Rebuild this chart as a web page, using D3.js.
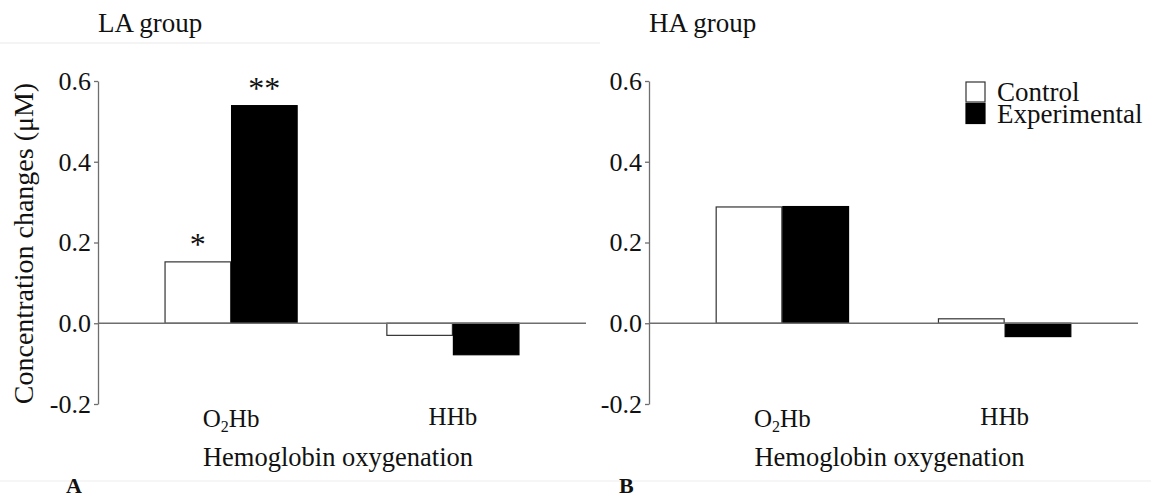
<!DOCTYPE html>
<html>
<head>
<meta charset="utf-8">
<script src="https://cdn.jsdelivr.net/npm/d3@7"></script>
<style>
  html, body { margin: 0; padding: 0; background: #ffffff; }
  svg { display: block; }
  text { font-family: "Liberation Serif", "Times New Roman", "DejaVu Serif", serif; fill: #111; }
</style>
</head>
<body>
<svg id="chart" width="1151" height="499"></svg>
<script>
// ---------------- data ----------------
const categories = ["O2Hb", "HHb"];
const seriesNames = ["Control", "Experimental"];
const laControl = [0.152, -0.030];
const laExperimental = [0.539, -0.078];
const haControl = [0.288, 0.011];
const haExperimental = [0.289, -0.033];
const yTicks = [-0.2, 0.0, 0.2, 0.4, 0.6];
const yTickLabels = ["-0.2", "0.0", "0.2", "0.4", "0.6"];
const laMarks = [{ category: "O2Hb", series: "Control", text: "*" },
                 { category: "O2Hb", series: "Experimental", text: "**" }];
const haMarks = [];

// ---------------- layout ----------------
const svg = d3.select("#chart");
const fillOf = { Control: "#ffffff", Experimental: "#000000" };
const strokeOf = { Control: "#333333", Experimental: "#000000" };
const axisColor = "#6e6e6e";

// faint scan borders from the source figure
svg.append("line").attr("x1", 0).attr("x2", 600).attr("y1", 43).attr("y2", 43)
  .attr("stroke", "#f1f1f1").attr("stroke-width", 1.5);
svg.append("line").attr("x1", 0).attr("x2", 1151).attr("y1", 481).attr("y2", 481)
  .attr("stroke", "#f3f3f3").attr("stroke-width", 1.5);

const y = d3.scaleLinear().domain([-0.2, 0.6]).range([404, 81]);

function panel(opts) {
  const g = svg.append("g");
  const x0 = opts.x0, x1 = opts.x1;
  const x = d3.scaleBand().domain(categories).range([x0, x1])
    .paddingInner(0.4).paddingOuter(0.3);
  const xs = d3.scaleBand().domain(seriesNames).range([0, x.bandwidth()]);

  // title
  g.append("text").attr("x", x0).attr("y", 32)
    .attr("font-size", 27).text(opts.title);

  // y axis
  const yAxis = d3.axisLeft(y).tickValues(yTicks)
    .tickFormat((d, i) => yTickLabels[i]).tickSize(4).tickSizeOuter(0).tickPadding(3);
  const ga = g.append("g").attr("transform", `translate(${x0},0)`).call(yAxis);
  ga.select(".domain").attr("stroke", axisColor).attr("stroke-width", 1.3);
  ga.selectAll(".tick line").attr("stroke", axisColor).attr("stroke-width", 1.3);
  ga.selectAll(".tick text")
    .attr("font-family", '"Liberation Serif", "Times New Roman", serif')
    .attr("font-size", 26).attr("fill", "#111");

  // bars
  const rows = [];
  categories.forEach((c, i) => {
    rows.push({ category: c, series: "Control", value: opts.control[i] });
    rows.push({ category: c, series: "Experimental", value: opts.experimental[i] });
  });
  g.selectAll("rect.bar").data(rows).enter().append("rect")
    .attr("class", "bar")
    .attr("x", d => x(d.category) + xs(d.series) + 0.5)
    .attr("width", xs.bandwidth() - 1)
    .attr("y", d => Math.min(y(d.value), y(0)))
    .attr("height", d => Math.abs(y(d.value) - y(0)))
    .attr("fill", d => fillOf[d.series])
    .attr("stroke", d => strokeOf[d.series])
    .attr("stroke-width", 1.2);

  // zero line
  g.append("line").attr("x1", x0).attr("x2", x1)
    .attr("y1", y(0)).attr("y2", y(0))
    .attr("stroke", axisColor).attr("stroke-width", 1.4);

  // significance marks
  opts.marks.forEach(m => {
    const idx = categories.indexOf(m.category);
    const v = (m.series === "Control" ? opts.control : opts.experimental)[idx];
    g.append("text")
      .attr("x", x(m.category) + xs(m.series) + xs.bandwidth() / 2)
      .attr("y", y(v) - 24)
      .attr("dy", "0.55em")
      .attr("text-anchor", "middle")
      .attr("font-size", 32)
      .text(m.text);
  });

  // category labels
  categories.forEach(c => {
    const t = g.append("text")
      .attr("x", x(c) + x.bandwidth() / 2)
      .attr("y", c === "O2Hb" ? 427 : 425)
      .attr("text-anchor", "middle")
      .attr("font-size", 25);
    if (c === "O2Hb") {
      t.append("tspan").text("O");
      t.append("tspan").attr("font-size", 16).attr("dy", 5).text("2");
      t.append("tspan").attr("dy", -5).text("Hb");
    } else {
      t.text(c);
    }
  });

  // x title
  g.append("text").attr("x", (x0 + x1) / 2 - 4).attr("y", 466)
    .attr("text-anchor", "middle").attr("font-size", 26.5)
    .text("Hemoglobin oxygenation");

  // panel letter
  g.append("text").attr("x", opts.letterX).attr("y", 493)
    .attr("font-size", 22).attr("font-weight", "bold").text(opts.letter);
}

panel({ x0: 98, x1: 586, title: "LA group", control: laControl,
        experimental: laExperimental, marks: laMarks, letter: "A", letterX: 66 });
panel({ x0: 649, x1: 1138, title: "HA group", control: haControl,
        experimental: haExperimental, marks: haMarks, letter: "B", letterX: 619 });

// y axis title
svg.append("text")
  .attr("transform", `translate(33,${(81 + 404) / 2 + 1}) rotate(-90)`)
  .attr("text-anchor", "middle").attr("font-size", 28)
  .text("Concentration changes (\u03BCM)");

// legend
const legend = svg.append("g").attr("transform", "translate(966,82)");
seriesNames.forEach((s, i) => {
  legend.append("rect").attr("x", 0).attr("y", i * 21.5)
    .attr("width", 19).attr("height", 20)
    .attr("fill", fillOf[s]).attr("stroke", strokeOf[s]).attr("stroke-width", 1.2);
  legend.append("text").attr("x", 31).attr("y", i * 21.5 + 19)
    .attr("font-size", 27).text(s);
});
</script>
</body>
</html>
